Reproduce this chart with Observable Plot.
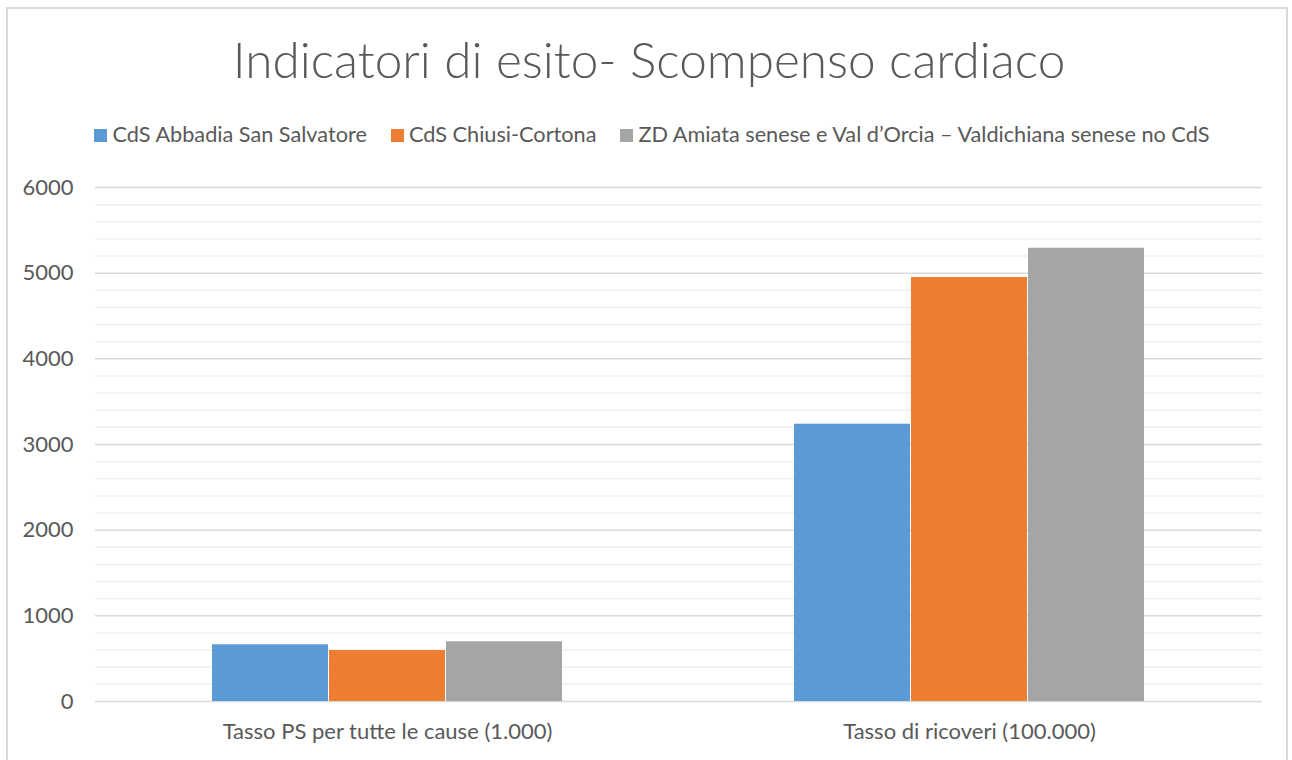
<!DOCTYPE html>
<html>
<head>
<meta charset="utf-8">
<script src="https://cdn.jsdelivr.net/npm/d3@7"></script>
<script src="https://cdn.jsdelivr.net/npm/@observablehq/plot@0.6"></script>
<style>
  html, body { margin: 0; padding: 0; background: #fff; width: 1292px; height: 760px; overflow: hidden; }
  body { position: relative; font-family: Lato, "Open Sans", sans-serif; color: #595959; }
  #frame { position: absolute; left: 6px; top: 7px; width: 1282px; height: 800px; border: 2px solid #d9d9d9; box-sizing: border-box; }
  #title { position: absolute; left: 0; width: 1298px; top: 32px; text-align: center; font-size: 49.5px; font-weight: 300; color: #595959; white-space: nowrap; line-height: 1.1; }
  #legend { position: absolute; left: 0; width: 1304px; top: 121px; text-align: center; font-size: 21.7px; white-space: nowrap; color: #595959; line-height: 1.2; }
  #legend span.item { margin: 0 12px; }
  #legend span.sw { display: inline-block; width: 13px; height: 13px; margin-right: 5px; vertical-align: 0px; }
  #chart { position: absolute; left: 0; top: 150px; }
</style>
</head>
<body>
<div id="frame"></div>
<div id="title">Indicatori di esito- Scompenso cardiaco</div>
<div id="legend"></div>
<div id="chart"></div>
<script>
const categories = ["Tasso PS per tutte le cause (1.000)", "Tasso di ricoveri (100.000)"];
const seriesNames = ["CdS Abbadia San Salvatore", "CdS Chiusi-Cortona", "ZD Amiata senese e Val d\u2019Orcia \u2013 Valdichiana senese no CdS"];
const seriesColors = ["#5B9BD5", "#ED7D31", "#A5A5A5"];
const abbadia = [662, 3237];
const chiusi = [595, 4949];
const amiata = [697, 5291];
const yTicks = [0, 1000, 2000, 3000, 4000, 5000, 6000];

const seriesValues = [abbadia, chiusi, amiata];
const data = [];
seriesNames.forEach((s, i) => categories.forEach((c, j) => data.push({category: c, series: s, value: seriesValues[i][j]})));

const legend = document.getElementById("legend");
seriesNames.forEach((s, i) => {
  const item = document.createElement("span");
  item.className = "item";
  item.innerHTML = `<span class="sw" style="background:${seriesColors[i]}"></span>${s}`;
  legend.appendChild(item);
});

const minor = d3.range(0, 6001, 200).filter(v => !yTicks.includes(v));
const bandW = 351, barW = bandW / 3;
const barMarks = seriesNames.map((s, i) => Plot.barY(data.filter(d => d.series === s), {
  x: "category", y: "value", fill: seriesColors[i],
  insetLeft: i * barW, insetRight: (2 - i) * barW
}));

const chart = Plot.plot({
  width: 1292,
  height: 610,
  marginLeft: 95,
  marginRight: 30,
  marginTop: 37,
  marginBottom: 59,
  style: {fontFamily: "Lato, 'Open Sans', sans-serif", fontSize: "22px", color: "#595959", background: "transparent"},
  x: {domain: categories, paddingInner: 0.398, paddingOuter: 0.2, label: null, tickSize: 0, tickPadding: 22},
  y: {domain: [0, 6000], ticks: yTicks, label: null, tickSize: 0, tickPadding: 22, tickFormat: d => String(d)},
  marks: [
    Plot.ruleY(minor, {stroke: "#f0f0f0", strokeWidth: 1.5}),
    Plot.ruleY(yTicks, {stroke: "#d9d9d9", strokeWidth: 1.5}),
    ...barMarks
  ]
});
document.getElementById("chart").appendChild(chart);
</script>
</body>
</html>
